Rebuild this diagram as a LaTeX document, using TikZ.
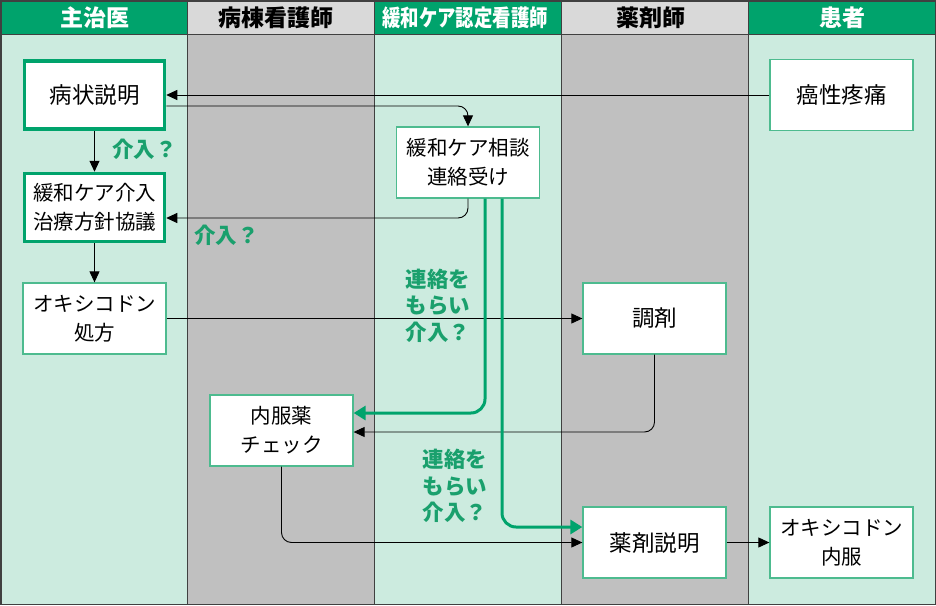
\documentclass[tikz,border=0pt]{standalone}
\usepackage{fontspec}
\setmainfont{Noto Sans CJK JP}
\usetikzlibrary{arrows.meta}
\definecolor{hgreen}{HTML}{00A36C}
\definecolor{lgreen}{HTML}{CCEBDF}
\definecolor{lgrey}{HTML}{C0C0C0}
\definecolor{hgrey}{HTML}{D9D9D9}
\definecolor{bgreen}{HTML}{4DBB8F}
\definecolor{tgreen}{HTML}{1AA06D}
\definecolor{frame}{HTML}{404040}
\tikzset{
  box/.style={draw=bgreen, line width=1.3pt, fill=white, minimum width=143pt, minimum height=71pt, inner sep=0pt, align=center, font=\fontsize{20.5}{29}\selectfont},
  bigtext/.style={font=\fontsize{22.5}{29}\selectfont},
  thickbox/.style={box, draw=hgreen, line width=3.5pt, minimum width=140pt, minimum height=68pt},
  hdr/.style={font=\fontsize{23}{26}\selectfont\bfseries, inner sep=0pt},
  lbl/.style={text=tgreen, font=\fontsize{21.5}{26.5}\selectfont\bfseries, align=center, inner sep=0pt},
  arr/.style={draw=black, line width=0.9pt, rounded corners=10pt, -{Triangle[length=11pt,width=10pt]}},
  garr/.style={draw=hgreen, line width=3pt, rounded corners=14pt, -{Triangle[length=12pt,width=14pt]}}
}
\begin{document}
\begin{tikzpicture}[x=1pt,y=-1pt]
\useasboundingbox (0,0) rectangle (936,605);
% lanes
\fill[lgreen] (0,34) rectangle (187.5,605);
\fill[lgrey] (187.5,34) rectangle (374.5,605);
\fill[lgreen] (374.5,34) rectangle (561,605);
\fill[lgrey] (561,34) rectangle (748,605);
\fill[lgreen] (748,34) rectangle (936,605);
% headers
\fill[hgreen] (0,0) rectangle (187.5,34);
\fill[hgrey] (187.5,0) rectangle (374.5,34);
\fill[hgreen] (374.5,0) rectangle (561,34);
\fill[hgrey] (561,0) rectangle (748,34);
\fill[hgreen] (748,0) rectangle (936,34);
\node[hdr, text=white] (h1) at (95,17.5) {主治医};
\node[hdr, text=black] (h2) at (276,17.5) {病棟看護師};
\node[hdr, text=white] (h3) at (465,17.5) {\scalebox{0.8}[1]{緩和ケア認定看護師}};
\node[hdr, text=black] (h4) at (651,17.5) {薬剤師};
\node[hdr, text=white] (h5) at (842,17.5) {患者};
% lane lines
\draw[frame, line width=0.9pt] (0,34) -- (936,34);
\foreach \x in {187.5,374.5,561,748} \draw[frame, line width=0.9pt] (\x,0) -- (\x,605);
\draw[frame, line width=1.5pt] (0.75,0.75) rectangle (935.25,604.25);
% boxes
\node[thickbox, bigtext] (byojo) at (94.5,95) {病状説明};
\node[thickbox] (kanwa) at (94.5,207.5) {緩和ケア介入\\治療方針協議};
\node[box] (shoho) at (94.5,318.5) {オキシコドン\\処方};
\node[box] (soudan) at (468,162.5) {緩和ケア相談\\連絡受け};
\node[box] (naifuku) at (281.5,430.5) {内服薬\\チェック};
\node[box, bigtext] (chozai) at (654.5,318.5) {調剤};
\node[box, bigtext] (setsumei) at (654.5,542.5) {薬剤説明};
\node[box, bigtext] (gan) at (841.5,95) {癌性疼痛};
\node[box] (naiyo) at (841.5,542.5) {オキシコドン\\内服};
% labels
\node[lbl, anchor=west] (l1) at (112,149) {介入？};
\node[lbl, anchor=west] (l2) at (194,235) {介入？};
\node[lbl] (l3) at (438,305.5) {連絡を\\もらい\\介入？};
\node[lbl] (l4) at (455,486) {連絡を\\もらい\\介入？};
% connectors
\draw[arr] (gan.west) -- (byojo.east);
\draw[arr] ([yshift=-11pt]byojo.east) -| (soudan.north);
\draw[arr] (soudan.south) |- ([yshift=-10.5pt]kanwa.east);
\draw[arr] (byojo.south) -- (kanwa.north);
\draw[arr] (kanwa.south) -- (shoho.north);
\draw[arr] (shoho.east) -- (chozai.west);
\draw[arr] (chozai.south) |- ([yshift=-1.5pt]naifuku.east);
\draw[arr] (naifuku.south) |- (setsumei.west);
\draw[arr] (setsumei.east) -- (naiyo.west);
\draw[garr] ([xshift=17pt]soudan.south) |- ([yshift=17.5pt]naifuku.east);
\draw[garr] ([xshift=34pt]soudan.south) |- ([yshift=15.5pt]setsumei.west);
\end{tikzpicture}
\end{document}
